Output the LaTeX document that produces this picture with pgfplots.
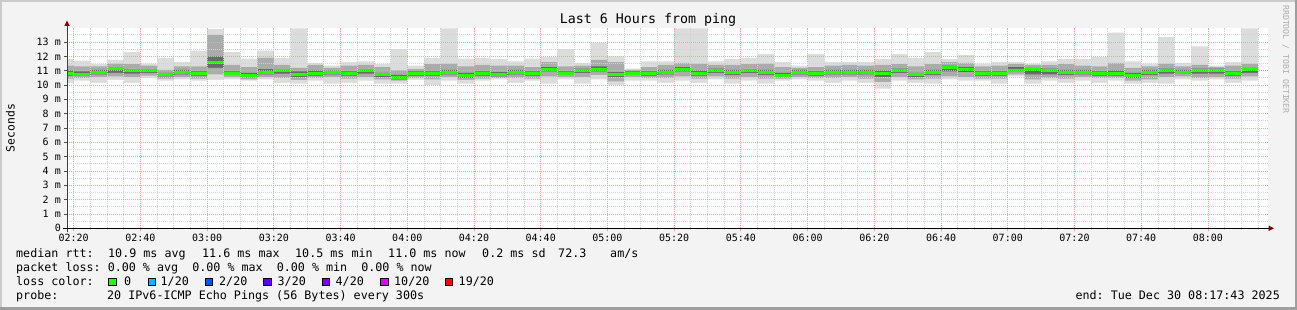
\documentclass[border=0pt]{standalone}
\usepackage{pgfplots}
\pgfplotsset{compat=1.18}
\usepackage{pgfplotstable}
\usepackage{fontspec}
\setmainfont{DejaVu Sans Mono}

\definecolor{bgc}{HTML}{F3F3F3}
\definecolor{brdL}{HTML}{CBCBCB}
\definecolor{brdD}{HTML}{9E9E9E}
\definecolor{smokeA}{HTML}{DCDCDC}
\definecolor{smokeB}{HTML}{ABABAB}
\definecolor{smokeC}{HTML}{6A6A6A}
\definecolor{loss0}{HTML}{26FF00}
\definecolor{loss1}{HTML}{00B8FF}
\definecolor{loss2}{HTML}{0059FF}
\definecolor{loss3}{HTML}{5E00FF}
\definecolor{loss4}{HTML}{7E00FF}
\definecolor{loss10}{HTML}{DD00FF}
\definecolor{loss19}{HTML}{FF0000}
\definecolor{mgrid}{HTML}{F2A2A2}
\definecolor{mingrid}{HTML}{D2D2D2}
\definecolor{arrowc}{HTML}{800000}
\definecolor{wmark}{HTML}{ADADAD}

% t = start of 5-minute interval (minutes after midnight), values in ms
\pgfplotstableread{
t lo1 lo2 lo3 med hi3 hi2 hi1
135 10.15 10.45 10.65 10.80 11.00 11.35 11.80
140 10.30 10.50 10.65 10.75 10.95 11.30 11.70
145 10.15 10.55 10.75 10.90 11.05 11.30 11.45
150 10.35 10.60 10.85 11.15 11.25 11.50 11.75
155 10.15 10.55 10.80 11.00 11.10 11.45 12.30
160 10.50 10.65 10.85 11.00 11.10 11.35 11.50
165 10.30 10.45 10.60 10.70 10.85 11.05 11.90
170 10.40 10.55 10.75 10.90 11.05 11.30 11.60
175 10.30 10.45 10.65 10.80 10.95 11.30 12.40
180 10.35 10.75 11.20 11.55 12.00 13.50 13.90
185 10.40 10.55 10.70 10.80 10.95 11.40 12.30
190 10.30 10.40 10.55 10.65 10.85 11.25 11.85
195 10.40 10.55 10.75 10.90 11.10 11.90 12.40
200 10.15 10.50 10.80 11.00 11.10 11.40 11.90
205 10.10 10.35 10.55 10.70 10.95 11.20 13.95
210 10.30 10.50 10.65 10.80 11.00 11.40 11.55
215 10.10 10.55 10.75 10.90 11.00 11.20 11.35
220 10.15 10.45 10.65 10.80 10.95 11.35 11.60
225 10.30 10.55 10.80 11.00 11.10 11.40 11.65
230 10.10 10.40 10.55 10.70 10.85 11.25 11.45
235 10.10 10.30 10.40 10.50 10.70 11.00 12.50
240 10.35 10.50 10.65 10.80 10.95 11.10 11.35
245 10.00 10.40 10.65 10.80 10.95 11.45 11.90
250 10.30 10.55 10.75 10.90 11.05 11.50 13.95
255 10.10 10.35 10.50 10.65 10.85 11.30 11.85
260 10.30 10.45 10.65 10.80 10.95 11.40 11.90
265 10.40 10.50 10.60 10.70 10.90 11.35 11.80
270 10.15 10.50 10.75 10.90 11.05 11.35 11.65
275 10.30 10.45 10.65 10.80 10.95 11.25 11.85
280 10.10 10.60 10.95 11.10 11.25 11.60 11.95
285 10.40 10.55 10.70 10.80 10.95 11.30 12.50
290 10.10 10.55 10.85 11.00 11.15 11.35 11.55
295 10.40 10.70 10.95 11.10 11.30 11.75 12.95
300 10.00 10.25 10.55 10.70 10.90 11.60 12.00
305 10.30 10.55 10.70 10.80 10.95 11.05 11.15
310 10.30 10.50 10.65 10.80 10.95 11.25 11.65
315 10.15 10.50 10.75 10.90 11.05 11.40 11.65
320 10.30 10.60 10.95 11.10 11.25 11.55 13.95
325 10.15 10.45 10.65 10.80 11.00 11.50 13.95
330 10.40 10.60 10.85 11.00 11.15 11.40 11.65
335 10.10 10.45 10.70 10.90 11.05 11.40 11.80
340 10.30 10.55 10.85 11.00 11.10 11.45 11.90
345 10.10 10.45 10.70 10.90 11.05 11.50 12.15
350 10.30 10.45 10.55 10.65 10.85 11.25 11.60
355 10.40 10.55 10.75 10.90 11.05 11.20 11.35
360 10.30 10.50 10.65 10.80 10.95 11.25 12.15
365 10.15 10.50 10.75 10.90 11.05 11.35 11.60
370 10.30 10.55 10.75 10.90 11.05 11.40 11.60
375 10.15 10.45 10.75 10.90 11.05 11.35 11.60
380 9.75 10.20 10.55 10.80 11.00 11.40 11.80
385 10.30 10.55 10.85 11.00 11.15 11.45 12.15
390 10.15 10.40 10.55 10.70 10.85 11.30 11.90
395 10.10 10.45 10.70 10.90 11.05 11.45 12.30
400 10.40 10.60 10.95 11.20 11.35 11.60 11.80
405 10.30 10.55 10.90 11.10 11.25 11.55 12.10
410 10.30 10.45 10.65 10.80 10.95 11.30 11.50
415 10.10 10.45 10.65 10.80 10.95 11.35 11.60
420 10.60 10.75 10.90 11.00 11.25 11.45 11.60
425 10.10 10.40 10.75 11.10 11.20 11.40 11.50
430 10.30 10.50 10.75 11.00 11.15 11.40 11.65
435 10.15 10.45 10.70 10.90 11.05 11.45 11.80
440 10.30 10.55 10.75 10.90 11.05 11.35 11.80
445 10.15 10.50 10.65 10.80 10.95 11.30 11.95
450 10.30 10.50 10.65 10.80 11.00 11.55 13.65
455 10.10 10.30 10.50 10.65 10.85 11.20 11.65
460 10.15 10.40 10.70 10.90 11.05 11.30 11.50
465 10.10 10.55 10.80 11.00 11.15 11.50 13.35
470 10.40 10.60 10.80 10.90 11.05 11.30 11.55
475 10.30 10.50 10.80 11.00 11.15 11.40 12.70
480 10.40 10.55 10.80 11.00 11.15 11.25 11.35
485 10.15 10.45 10.65 10.80 10.95 11.35 11.60
490 10.30 10.60 10.85 11.05 11.20 11.50 13.95
495 10.30 10.60 10.85 11.05 11.20 11.50 13.95
}\smoke

\begin{document}
\frenchspacing
\begin{tikzpicture}
\useasboundingbox (0pt,0pt) rectangle (1297pt,310pt);
% background and 3D border
\fill[bgc] (0pt,0pt) rectangle (1297pt,310pt);
\fill[brdL] (0pt,308pt) rectangle (1297pt,310pt);
\fill[brdL] (0pt,0pt) rectangle (2pt,310pt);
\fill[brdD] (0pt,0pt) rectangle (1297pt,3pt);
\fill[brdD] (1295pt,0pt) rectangle (1297pt,310pt);

\begin{axis}[
  at={(67pt,81.7pt)}, anchor=south west,
  scale only axis, width=1201pt, height=200.6pt,
  xmin=138, xmax=498, ymin=0, ymax=14,
  axis background/.style={fill=white},
  axis on top,
  axis x line*=bottom, axis y line*=left,
  axis line style={draw=none},
  xtick={140,160,...,480},
  xticklabels={02:20,02:40,03:00,03:20,03:40,04:00,04:20,04:40,05:00,05:20,05:40,06:00,06:20,06:40,07:00,07:20,07:40,08:00},
  minor xtick={145,150,...,495},
  ytick={0,1,...,13},
  yticklabels={0,1 m,2 m,3 m,4 m,5 m,6 m,7 m,8 m,9 m,10 m,11 m,12 m,13 m},
  minor ytick={0.5,1.5,...,13.5},
  grid=both,
  major grid style={mgrid, dash pattern=on 1pt off 1pt, line width=0.8pt},
  minor grid style={mingrid, dash pattern=on 1pt off 1pt, line width=0.8pt},
  tick align=outside,
  major tick length=3pt, minor tick length=2pt,
  major x tick style={mgrid, line width=0.8pt},
  minor x tick style={mingrid, line width=0.8pt},
  major y tick style={black!70, line width=0.8pt},
  minor y tick style={draw=none},
  xticklabel style={font=\fontsize{10}{12}\selectfont, inner sep=1pt, yshift=-2pt},
  yticklabel style={font=\fontsize{10}{12}\selectfont, inner sep=1pt, xshift=-2pt},
]
\addplot[const plot mark left, fill=smokeA, draw=none] table[x=t, y=hi1] {\smoke} \closedcycle;
\addplot[const plot mark left, fill=smokeB, draw=none] table[x=t, y=hi2] {\smoke} \closedcycle;
\addplot[const plot mark left, fill=smokeC, draw=none] table[x=t, y=hi3] {\smoke} \closedcycle;
\addplot[const plot mark left, fill=smokeB, draw=none] table[x=t, y=lo3] {\smoke} \closedcycle;
\addplot[const plot mark left, fill=smokeA, draw=none] table[x=t, y=lo2] {\smoke} \closedcycle;
\addplot[const plot mark left, fill=white, draw=none] table[x=t, y=lo1] {\smoke} \closedcycle;
\addplot[jump mark left, loss0, line width=3pt] table[x=t, y=med] {\smoke};
\end{axis}

% axis lines with arrows
\draw[black!75, line width=1pt] (67pt,77.5pt) -- (67pt,285pt);
\fill[arrowc] (64.3pt,284pt) -- (69.7pt,284pt) -- (67pt,289.5pt) -- cycle;
\draw[black, line width=1pt] (63pt,81.7pt) -- (1269pt,81.7pt);
\fill[arrowc] (1268.5pt,79pt) -- (1268.5pt,84.4pt) -- (1274pt,81.7pt) -- cycle;

% title, axis label, watermark
\node[anchor=base, inner sep=0pt, font=\fontsize{13.3}{16}\selectfont] at (648pt,286pt) {Last 6 Hours from ping};
\node[anchor=base, rotate=90, inner sep=0pt, font=\fontsize{11.4}{14}\selectfont] at (14.5pt,182pt) {Seconds};
\node[anchor=base west, rotate=-90, inner sep=0pt, text=wmark, font=\fontsize{8.2}{10}\selectfont] at (1283pt,305pt) {RRDTOOL / TOBI OETIKER};

% legend
\begin{scope}[every node/.style={anchor=base west, inner sep=0pt, font=\fontsize{11.7}{14}\selectfont}]
\node at (16pt,52pt) {median rtt:};
\node at (108pt,52pt) {10.9 ms avg};
\node at (202pt,52pt) {11.6 ms max};
\node at (295pt,52pt) {10.5 ms min};
\node at (388pt,52pt) {11.0 ms now};
\node at (482pt,52pt) {0.2 ms sd};
\node at (558pt,52pt) {72.3};
\node at (610pt,52pt) {am/s};
\node at (16pt,38pt) {packet loss: 0.00 \% avg~~0.00 \% max~~0.00 \% min~~0.00 \% now};
\node at (16pt,24pt) {loss color:};
\filldraw[fill=loss0, draw=black, line width=0.8pt] (108.5pt,24.5pt) rectangle ++(7.5pt,7.5pt);
\node at (124pt,24pt) {0};
\filldraw[fill=loss1, draw=black, line width=0.8pt] (148pt,24.5pt) rectangle ++(7.5pt,7.5pt);
\node at (160.5pt,24pt) {1/20};
\filldraw[fill=loss2, draw=black, line width=0.8pt] (205pt,24.5pt) rectangle ++(7.5pt,7.5pt);
\node at (219pt,24pt) {2/20};
\filldraw[fill=loss3, draw=black, line width=0.8pt] (263.5pt,24.5pt) rectangle ++(7.5pt,7.5pt);
\node at (277.5pt,24pt) {3/20};
\filldraw[fill=loss4, draw=black, line width=0.8pt] (322pt,24.5pt) rectangle ++(7.5pt,7.5pt);
\node at (335.5pt,24pt) {4/20};
\filldraw[fill=loss10, draw=black, line width=0.8pt] (380.5pt,24.5pt) rectangle ++(7.5pt,7.5pt);
\node at (394pt,24pt) {10/20};
\filldraw[fill=loss19, draw=black, line width=0.8pt] (445pt,24.5pt) rectangle ++(7.5pt,7.5pt);
\node at (458.5pt,24pt) {19/20};
\node at (16pt,10pt) {probe:};
\node at (107pt,10pt) {20 IPv6-ICMP Echo Pings (56 Bytes) every 300s};
\node[anchor=base east] at (1280pt,10pt) {end: Tue Dec 30 08:17:43 2025};
\end{scope}
\end{tikzpicture}
\end{document}
